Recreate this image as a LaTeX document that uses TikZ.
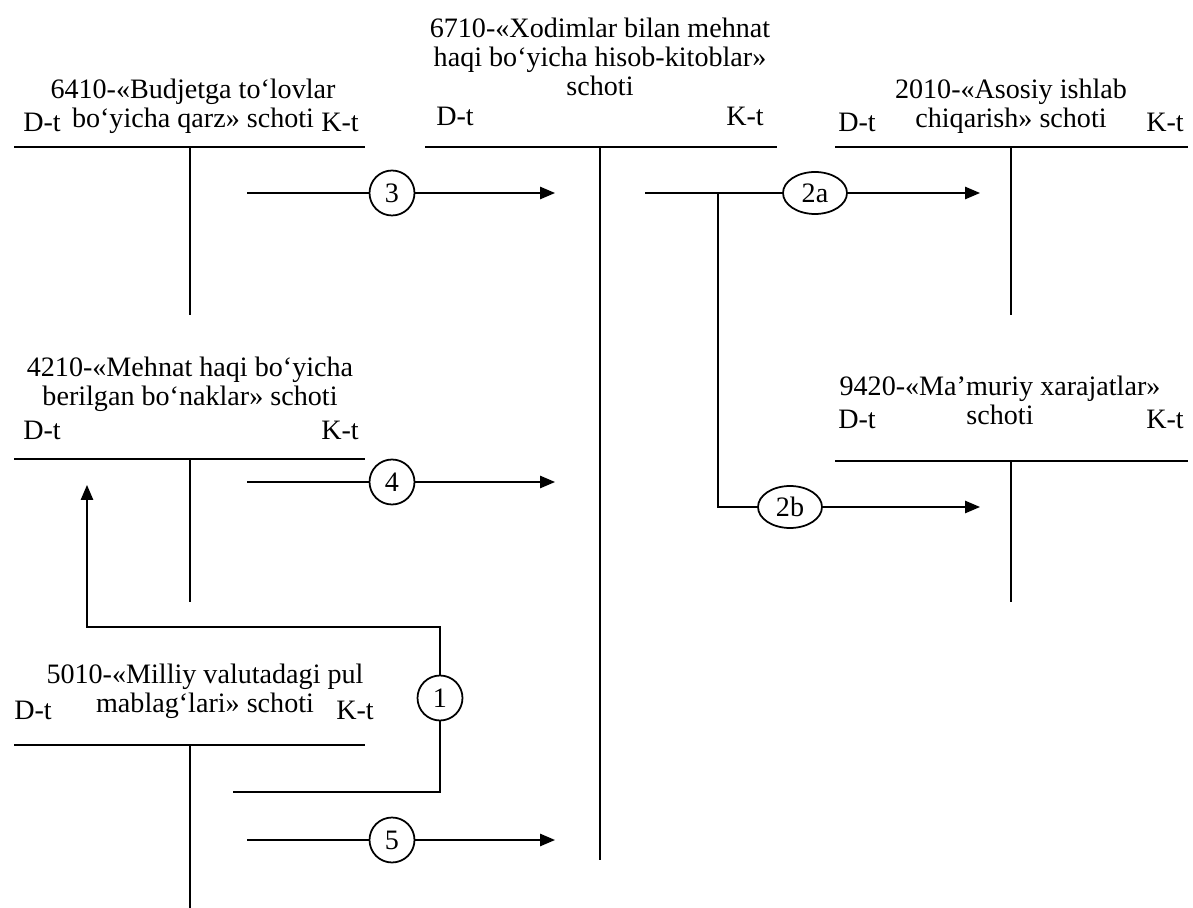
\documentclass[tikz,border=0pt]{standalone}
\usepackage{fontspec}
\setmainfont{Liberation Serif}
\usetikzlibrary{arrows.meta, shapes.geometric}

\begin{document}
\begin{tikzpicture}[
    x=0.02cm, y=-0.02cm,
    line width=1pt,
    title/.style={
        align=center,
        inner sep=0pt,
        font=\fontsize{16}{16.5}\selectfont
    },
    side/.style={inner sep=0pt, font=\fontsize{16}{16.5}\selectfont},
    num/.style={
        draw,
        circle,
        minimum size=0.9cm,
        inner sep=0pt,
        font=\fontsize{16}{16.5}\selectfont
    },
    oval/.style={
        draw,
        ellipse,
        minimum width=1.28cm,
        minimum height=0.84cm,
        inner sep=0pt,
        font=\fontsize{16}{16.5}\selectfont
    },
    arrow/.style={-{Triangle[length=8.5pt, width=7pt]}}
]
\useasboundingbox (0,0) rectangle (1193,908);

% schotlar
\node[title] (t6410) at (193,106) {6410-«Budjetga to‘lovlar\\bo‘yicha qarz» schoti};
\node[side] (d6410) at (42,122) {D-t};
\node[side] (k6410) at (340,122) {K-t};
\draw (14,147) -- (365,147) (190,147) -- (190,315);

\node[title] (t6710) at (600,57) {6710-«Xodimlar bilan mehnat\\haqi bo‘yicha hisob-kitoblar»\\schoti};
\node[side] (d6710) at (455,116) {D-t};
\node[side] (k6710) at (745,116) {K-t};
\draw (425,147) -- (777,147) (600,147) -- (600,860);

\node[title] (t2010) at (1011,106) {2010-«Asosiy ishlab\\chiqarish» schoti};
\node[side] (d2010) at (857,122) {D-t};
\node[side] (k2010) at (1165,122) {K-t};
\draw (835,147) -- (1188,147) (1011,147) -- (1011,315);

\node[title] (t4210) at (190,384) {4210-«Mehnat haqi bo‘yicha\\berilgan bo‘naklar» schoti};
\node[side] (d4210) at (42,430) {D-t};
\node[side] (k4210) at (340,430) {K-t};
\draw (14,459) -- (365,459) (190,459) -- (190,602);

\node[title] (t9420) at (1000,400) {9420-«Ma’muriy xarajatlar»\\schoti};
\node[side] (d9420) at (857,419) {D-t};
\node[side] (k9420) at (1165,419) {K-t};
\draw (835,461) -- (1188,461) (1011,461) -- (1011,602);

\node[title] (t5010) at (205,691) {5010-«Milliy valutadagi pul\\mablag‘lari» schoti};
\node[side] (d5010) at (33,710) {D-t};
\node[side] (k5010) at (355,710) {K-t};
\draw (14,745) -- (365,745) (190,745) -- (190,908);

% provodkalar
\coordinate (s3) at (247,193);
\node[num] (n3) at (392,193) {3};
\coordinate (e3) at (555,193);
\draw (s3) -- (n3);
\draw[arrow] (n3) -- (e3);

\coordinate (s4) at (247,482);
\node[num] (n4) at (392,482) {4};
\coordinate (e4) at (555,482);
\draw (s4) -- (n4);
\draw[arrow] (n4) -- (e4);

\coordinate (s5) at (247,840);
\node[num] (n5) at (392,840) {5};
\coordinate (e5) at (555,840);
\draw (s5) -- (n5);
\draw[arrow] (n5) -- (e5);

\coordinate (s2) at (645,193);
\coordinate (b2) at (718,193);
\node[oval] (n2a) at (815,193) {2a};
\coordinate (e2a) at (980,193);
\node[oval] (n2b) at (790,507) {2b};
\coordinate (e2b) at (980,507);
\draw (s2) -- (n2a);
\draw[arrow] (n2a) -- (e2a);
\draw (b2) |- (n2b);
\draw[arrow] (n2b) -- (e2b);

\coordinate (s1) at (233,792);
\node[num] (n1) at (440,698) {1};
\coordinate (c1) at (87,627);
\coordinate (e1) at (87,485);
\draw (s1) -| (n1);
\draw[arrow] (n1) |- (c1) -- (e1);
\end{tikzpicture}
\end{document}
